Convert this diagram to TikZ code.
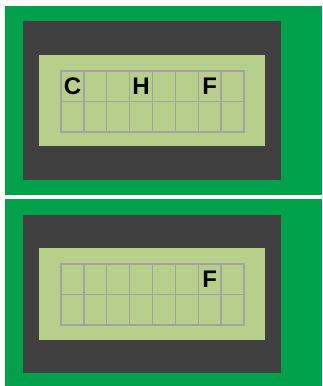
\documentclass[tikz,border=0pt]{standalone}
\usepackage{fontspec}
\setmainfont{Liberation Sans}
\usetikzlibrary{positioning}
\definecolor{cboard}{HTML}{00A14B}
\definecolor{cbezel}{HTML}{404040}
\definecolor{cscreen}{HTML}{B8CF8B}
\definecolor{cgrid}{HTML}{A3A3A3}
\tikzset{
  every picture/.style={line width=1pt},
  board/.style={fill=cboard},
  bezel/.style={fill=cbezel},
  screen/.style={fill=cscreen},
  cell/.style={draw=cgrid, line width=1.4pt, minimum width=22.875pt, minimum height=30.4pt, inner sep=0pt, outer sep=0pt},
  glyph/.style={font=\bfseries\fontsize{24}{24}\selectfont, text=black, inner sep=0pt},
}
\begin{document}
\begin{tikzpicture}[x=1pt, y=-1pt]
  \useasboundingbox[fill=white] (0,0) rectangle (322,386);
  % upper display
  \fill[board] (5,6) rectangle (322,195);
  \fill[bezel] (23,21) rectangle (281,180);
  \fill[screen] (39,55) rectangle (265,146);
  \foreach \r in {1,2}
    \foreach \c in {1,...,8}
      \node[cell] (t-\r-\c) at ({61+(\c-0.5)*22.875}, {71+(\r-0.5)*30.4}) {};
  \node[glyph] (tc) at (t-1-1) {C};
  \node[glyph] (th) at (t-1-4) {H};
  \node[glyph] (tf) at (t-1-7) {F};
  % lower display
  \fill[board] (5,199) rectangle (322,386);
  \fill[bezel] (23,215) rectangle (281,373);
  \fill[screen] (39,248) rectangle (265,340);
  \foreach \r in {1,2}
    \foreach \c in {1,...,8}
      \node[cell] (b-\r-\c) at ({61+(\c-0.5)*22.875}, {264+(\r-0.5)*30.4}) {};
  \node[glyph] (bf) at (b-1-7) {F};
\end{tikzpicture}
\end{document}
